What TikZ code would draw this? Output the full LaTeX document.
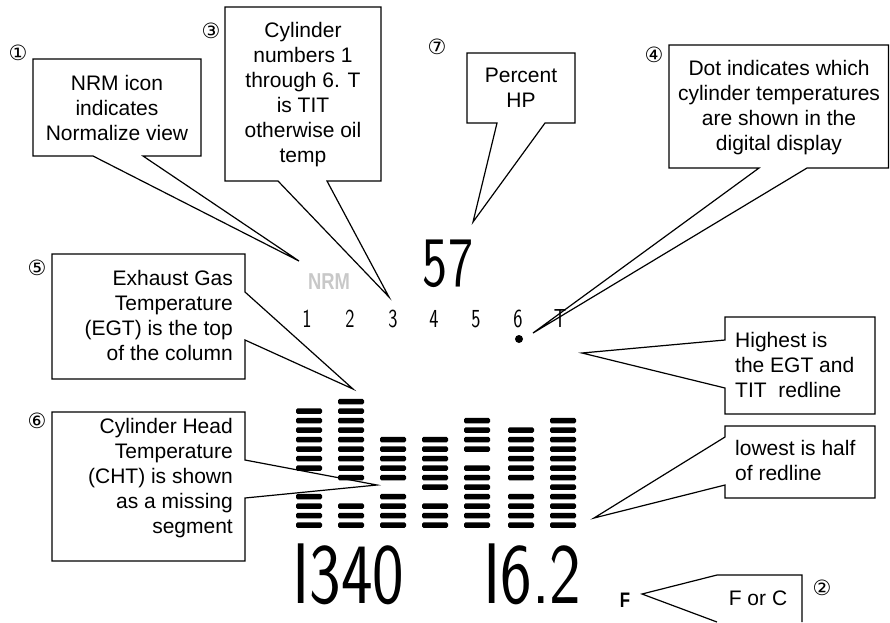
\documentclass[tikz,border=0pt]{standalone}
\usepackage{fontspec}
\setmainfont{Liberation Sans}
\newfontfamily\circfont{DejaVu Sans}
\usepackage{tikz}
\usetikzlibrary{calc}
\definecolor{IconGray}{RGB}{200,200,200}
\newcommand{\lcdnum}[2][0.75]{\scalebox{#1}[1]{\sffamily #2}}

\begin{document}
\begin{tikzpicture}[x=1pt, y=-1pt,
		callout/.style={line width=1.2pt, line join=miter},
		note/.style={font=\fontsize{21}{25}\selectfont, inner sep=0pt, anchor=north, align=center},
		circnum/.style={font=\circfont\fontsize{21}{21}\selectfont, inner sep=0pt},
		cyl/.style={font=\fontsize{26}{26}\selectfont, inner sep=0pt, anchor=base},
		seg/.style={rounded corners=1.5pt}]
		\useasboundingbox (0,0) rectangle (890,622);
		
		% pointer tips
		\coordinate (nrmtip) at (299,261);
		\coordinate (cyltip) at (389,297);
		\coordinate (hptip) at (473,222);
		\coordinate (dottip) at (533,333);
		\coordinate (egttip) at (353,389);
		\coordinate (chttip) at (377,485);
		\coordinate (hightip) at (582,353);
		\coordinate (lowtip) at (594,518);
		\coordinate (unittip) at (642,594);
		
		% callout boxes
		\draw[callout] (33,59) -- (201,59) -- (201,156) -- (143,156) -- (nrmtip) -- (93,156) -- (33,156) -- cycle;
		\draw[callout] (225,7) -- (381,7) -- (381,181) -- (327,181) -- (cyltip) -- (278,181) -- (225,181) -- cycle;
		\draw[callout] (467,53) -- (575,53) -- (575,123) -- (545,123) -- (hptip) -- (497,123) -- (467,123) -- cycle;
		\draw[callout] (669,45) -- (888.5,45) -- (888.5,168) -- (807,168) -- (dottip) -- (759,168) -- (669,168) -- cycle;
		\draw[callout] (52,254) -- (245,254) -- (245,292) -- (egttip) -- (245,340) -- (245,379) -- (52,379) -- cycle;
		\draw[callout] (52,412) -- (245,412) -- (245,460) -- (chttip) -- (245,498) -- (245,561) -- (52,561) -- cycle;
		\draw[callout] (725,317) -- (875,317) -- (875,414) -- (725,414) -- (725,388) -- (hightip) -- (725,340) -- cycle;
		\draw[callout] (725,426) -- (875,426) -- (875,498) -- (725,498) -- (725,485) -- (lowtip) -- (725,437) -- cycle;
		\draw[callout] (717,622) -- (unittip) -- (717,575) -- (802,575) -- (802,622);
		
		% callout texts
		\node[note] (nrmnote) at (117,75) {NRM icon\\indicates\\Normalize view};
		\node[note] (cylnote) at (303,22) {Cylinder\\numbers 1\\through 6. T\\is TIT\\otherwise oil\\temp};
		\node[note] (hpnote) at (521,68) {Percent\\HP};
		\node[note] (dotnote) at (779,60) {Dot indicates which\\cylinder temperatures\\are shown in the\\digital display};
		\node[note, anchor=north east, align=right] (egtnote) at (233,270) {Exhaust Gas\\Temperature\\(EGT) is the top\\of the column};
		\node[note, anchor=north east, align=right] (chtnote) at (233,418) {Cylinder Head\\Temperature\\(CHT) is shown\\as a missing\\segment};
		\node[note, anchor=north west, align=left] (highnote) at (735,332) {Highest is\\the EGT and\\TIT\ \ redline};
		\node[note, anchor=north west, align=left] (lownote) at (735,440) {lowest is half\\of redline};
		\node[note, anchor=base] (unitnote) at (758,605) {F or C};
		
		% circled numbers
		\node[circnum] (n1) at (18,53) {①};
		\node[circnum] (n2) at (822,588) {②};
		\node[circnum] (n3) at (211,31) {③};
		\node[circnum] (n4) at (654,55) {④};
		\node[circnum] (n5) at (37,268) {⑤};
		\node[circnum] (n6) at (37,421) {⑥};
		\node[circnum] (n7) at (437,47) {⑦};
		
		% display
		\node[inner sep=0pt, anchor=base, text=IconGray, font=\bfseries\fontsize{23}{23}\selectfont] (nrm) at (329,289) {\scalebox{0.8}[1]{NRM}};
		\node[inner sep=0pt, anchor=base, font=\fontsize{71}{71}\selectfont] (hp) at (448,286) {\lcdnum{57}};
		\foreach \n/\x in {1/307, 2/350, 3/393, 4/434, 5/476, 6/518, T/560}
			\node[cyl] (cyl\n) at (\x,327) {\lcdnum{\n}};
		\fill (519,339) circle (4pt); % selected cylinder
		
		% bars: x / top row / two missing rows
		\foreach \cx/\rows/\ga/\gb in {296/12/4/5, 338/13/3/4, 380/9/4/-1, 422/9/3/-1, 464/11/7/-1, 508/10/4/-1, 550/11/-1/-1}
			\foreach \r in {0,...,\rows}{
				\ifnum\r=\ga\else\ifnum\r=\gb\else
					\fill[seg] ({\cx},{522.25-9.5*\r}) rectangle ++(26,5.5);
				\fi\fi
			}
		
		\node[inner sep=0pt, anchor=base west, font=\fontsize{86}{86}\selectfont] (egt) at (292,603) {\lcdnum[0.78]{I340}};
		\node[inner sep=0pt, anchor=base west, font=\fontsize{86}{86}\selectfont] (ff) at (483,603) {\lcdnum[0.78]{I6.2}};
		\node[inner sep=0pt, anchor=base, font=\bfseries\fontsize{21}{21}\selectfont] (unit) at (625,607) {\scalebox{0.8}[1]{F}};
	\end{tikzpicture}
\end{document}
